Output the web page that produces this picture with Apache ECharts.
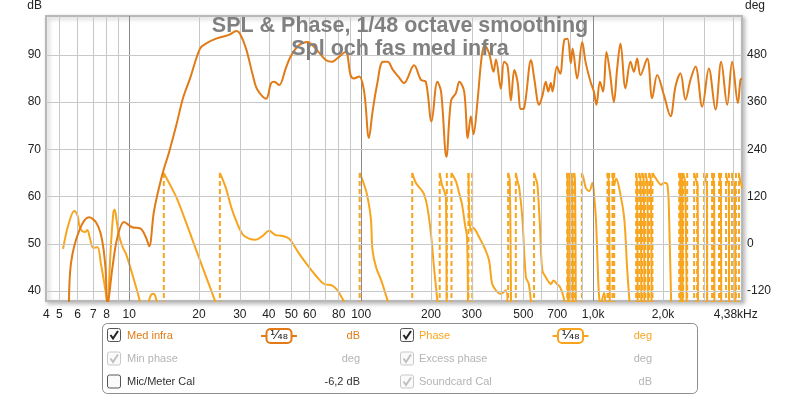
<!DOCTYPE html>
<html>
<head>
<meta charset="utf-8">
<script src="https://cdn.jsdelivr.net/npm/echarts@6/dist/echarts.min.js"></script>
<style>
  html, body { margin: 0; padding: 0; background: #fff; }
  #mains { width: 800px; height: 396px; }
</style>
</head>
<body>
<div id="mains"></div>
<script>
var myCharts = echarts.init(document.getElementById("mains"));

// SPL, [Hz, dB]
var splData = [
  [5.5, 36], [5.61, 45.8], [6.09, 52.8], [6.72, 55.6], [7.18, 54.6], [7.6, 51.4], [7.9, 45.1], [8.06, 37],
  [8.47, 45], [8.9, 51.4], [9.5, 54.6], [10.3, 53.5], [11.2, 53.2], [11.8, 51.4], [12.2, 49.5], [12.8, 57],
  [13.9, 64.7], [14.9, 69.6], [16, 75.3], [17.1, 81], [18.3, 85], [20.2, 91.3], [21.5, 92.4], [23.7, 93.4],
  [26.9, 94.2], [29, 95], [30, 94.5], [31.9, 91.3], [34.1, 85.7], [35.7, 82.6], [38.9, 80.7], [40.9, 84],
  [42.2, 84.3], [44.3, 83.6], [47.3, 87.1], [49.6, 89.6], [53.9, 92], [58.6, 92.7], [63.6, 91.3], [70.3, 88.9],
  [75, 88.5], [78.7, 89.2], [85.6, 90.6], [90, 85.7], [93, 85], [98, 85.4], [103, 82.2], [108, 72.4], [112, 78],
  [117, 83.6], [124, 88.5], [130, 88.5], [137, 86.8], [145, 85.3], [153, 84], [169, 87.8], [181, 84.7],
  [190, 84.3], [201, 75.9], [213, 84.3], [221, 82.2], [233, 68.4], [244, 80.3], [256, 81.9], [265, 84.3],
  [278, 82.2], [288, 72.4], [297, 77], [305, 73.2], [317, 80], [330, 89.2], [340, 92], [356, 90.3], [372, 86.4],
  [381, 89], [400, 82.8], [413, 88.5], [427, 87.8], [442, 80.3], [457, 86.8], [472, 84.3], [488, 78.5],
  [504, 78.7], [540, 88.9], [557, 85], [585, 79.4], [604, 81.3], [625, 84.3], [640, 82.2], [657, 84], [668, 82.2],
  [698, 87.5], [720, 86], [750, 93.1], [775, 93.4], [801, 88.2], [815, 91.3], [853, 85], [897, 92.7], [927, 88.5],
  [974, 84.3], [1007, 82.2], [1033, 79.4], [1069, 84.3], [1104, 82.2], [1141, 90.6], [1180, 86.4], [1228, 80],
  [1269, 87.1], [1311, 92.4], [1378, 82.9], [1448, 88.5], [1498, 86.4], [1547, 89.2], [1599, 85.7], [1709, 89.2],
  [1796, 80.8], [1888, 85.7], [2017, 81.5], [2154, 77], [2263, 83.3], [2378, 86.1], [2499, 80.5], [2627, 84.7],
  [2761, 87.5], [2950, 79], [3152, 87.1], [3367, 78.4], [3562, 88.5], [3780, 79.4], [3972, 88.5], [4205, 79.8],
  [4314, 84.7], [4380, 85]
];

// phase, [Hz, deg], one list per piece between wraps
var phaseSegs = [
  [[5.19, -13], [5.45, 45], [5.8, 83], [6.0, 70], [6.1, 45], [6.25, 33], [6.45, 30], [6.6, 35], [6.75, 18], [7.0, -10],
   [7.3, -9], [7.55, -50], [7.8, -98], [8.0, -140], [8.08, -165], [8.2, -90], [8.35, 0], [8.55, 80], [8.65, 87],
   [8.85, 55], [9.05, 20], [9.4, -10], [9.7, -26], [10.3, -76], [11.0, -135], [11.4, -175]],
  [[11.9, -175], [12.3, -135], [12.7, -127], [13.0, -135], [13.4, -175]],
  [[14.1, 180], [15, 150], [16, 117], [17.7, 50], [19.5, -18], [21.5, -85], [23.4, -144], [24.4, -180]],
  [[24.6, 180], [26.1, 142], [27.9, 83], [30.8, 24], [32.9, 13], [35, 10], [37.6, 20], [40.1, 33], [42.8, 22],
   [45.8, 20], [48.9, 13], [54, -25], [59.7, -60], [63.8, -81], [69.2, -102], [75.1, -106], [79, -118], [84.6, -148], [92, -180]],
  [[98.5, 180], [103, 150], [106, 125], [110, 66], [112, -18], [116, -60], [122, -93], [130, -144], [136, -180]],
  [[166, 180], [172, 155], [181, 138], [187, 125], [193, 92], [200, 24], [206, -60], [213, -144], [216, -180]],
  [[218, 180], [223, 150], [228, 134], [232, 117], [233.5, -180]],
  [[245, 180], [256, 159], [264, 130], [272, 100], [280, 50], [286, 16], [288.5, -180]],
  [[290, 180], [293, 60], [297, 33], [304, 41], [312, 33], [323, 16], [340, -10], [356, -43], [367, -102],
   [381, -118], [400, -127], [420, -118], [428, -180]],
  [[430, 180], [437, 160], [443, -180]],
  [[464, 180], [472, 159], [480, 142], [495, 66], [513, -85], [528, -102], [545, -180]],
  [[556, 180], [566, 165], [575, 150], [590, 41], [604, -68], [625, -85], [640, -95], [657, -102], [675, -93],
   [698, -102], [720, -110], [745, -135], [766, -180]],
  [[773, 180], [776, 150], [779, -180]],
  [[790, 180], [793, 150], [797, -180]],
  [[806, 180], [812, 165], [818, -180]],
  [[828, 180], [835, 160], [842, -180]],
  [[894, 180], [910, 165], [930, 142], [961, 134], [993, 155], [1010, 120], [1027, 66], [1045, -50], [1061, -135],
   [1080, -155], [1100, -135], [1115, -125], [1130, -150], [1140, -180]],
  [[1152, 180], [1168, 155], [1180, -180]],
  [[1211, 180], [1232, 150], [1256, 165], [1294, 142], [1360, 66], [1400, -60], [1429, -135], [1450, -180]],
  [[1532, 180], [1545, 150], [1556, -180]],
  [[1579, 180], [1600, 160], [1612, -180]],
  [[1627, 180], [1650, 165], [1662, -180]],
  [[1680, 180], [1710, 150], [1725, -180]],
  [[1743, 180], [1770, 165], [1785, -180]],
  [[1801, 180], [1869, 165], [1963, 150], [2023, 155], [2089, 150], [2125, 66], [2169, -150], [2190, -180]],
  [[2349, 180], [2370, 165], [2382, -180]],
  [[2396, 180], [2420, 160], [2432, -180]],
  [[2443, 180], [2490, 155], [2530, -180]],
  [[2724, 180], [2780, 160], [2820, 150], [2830, -180]],
  [[3007, 180], [3060, 160], [3090, 150], [3100, -180]],
  [[3254, 180], [3300, 160], [3320, 150], [3330, -180]],
  [[3488, 180], [3530, 160], [3550, 150], [3565, -180]],
  [[3737, 180], [3790, 160], [3840, 150], [3855, -180]],
  [[3964, 180], [4020, 160], [4080, 150], [4100, -180]],
  [[4249, 180], [4300, 160], [4360, 150], [4380, 140]]
];

// frequencies of the dashed phase wrap lines
var phaseWraps = [14.1, 24.6, 98.5, 166, 218, 234, 245, 290, 301, 430, 464, 556, 773, 790, 806, 828, 894,
  1152, 1172, 1211, 1232, 1532, 1579, 1627, 1680, 1743, 1801, 2349, 2396, 2443, 2542, 2724, 2806, 3007, 3098,
  3254, 3320, 3488, 3558, 3737, 3849, 3964, 4125, 4249];

var xTickVals = [4.4, 5, 6, 7, 8, 10, 20, 30, 40, 50, 60, 80, 100, 200, 300, 500, 700, 1000, 2000, 4370];
var xTickText = ["4", "5", "6", "7", "8", "10", "20", "30", "40", "50", "60", "80", "100", "200", "300", "500", "700", "1,0k", "2,0k", "4,38kHz"];
var xGridMinor = [5, 6, 7, 8, 9, 20, 30, 40, 50, 60, 70, 80, 90, 200, 300, 400, 500, 600, 700, 800, 900, 2000, 3000, 4000];
var xGridMajor = [10, 100, 1000];
var dbTicks = [40, 50, 60, 70, 80, 90];
var degTicks = [-120, 0, 120, 240, 360, 480];

var splColor = "#e07b17";
var phaseColor = "#f7a51e";
var font = "Liberation Sans";

// build line data
var phaseLine = [];
phaseSegs.forEach(function (seg) {
  seg.forEach(function (p) { phaseLine.push(p); });
  phaseLine.push([seg[seg.length - 1][0], "-"]);
});
var wrapLine = [];
phaseWraps.forEach(function (f) {
  wrapLine.push([f, 180], [f, -180], [f, "-"]);
});

var gridLines = [];
xGridMinor.forEach(function (f) { gridLines.push({ xAxis: f }); });
xGridMajor.forEach(function (f) { gridLines.push({ xAxis: f, lineStyle: { color: "#8a8a8a" } }); });
dbTicks.forEach(function (v) { gridLines.push({ yAxis: v }); });

// legend panel under the chart
function box(x, y, state) {
  var stroke = state == "dim" ? "#c8c8c8" : "#555";
  var els = [{ type: "rect", shape: { x: x, y: y, width: 13, height: 13, r: 2 }, style: { fill: "#fafafa", stroke: stroke, lineWidth: 1 } }];
  if (state != "off") {
    els.push({ type: "polyline", shape: { points: [[x + 3, y + 6.5], [x + 5.5, y + 10], [x + 10.5, y + 2.5]] },
      style: { stroke: state == "dim" ? "#c0c0c0" : "#222", lineWidth: 2, fill: null } });
  }
  return els;
}
function txt(x, y, s, color, align) {
  return { type: "text", x: x, y: y, style: { text: s, fill: color, font: '11px "' + font + '"', align: align || "left", verticalAlign: "middle" } };
}
function badge(cx, y, color) {
  return [
    { type: "line", shape: { x1: cx - 18, y1: y, x2: cx + 18, y2: y }, style: { stroke: color, lineWidth: 2 } },
    { type: "rect", shape: { x: cx - 12.5, y: y - 7, width: 25, height: 14, r: 4 }, style: { fill: "#fff", stroke: color, lineWidth: 2 } },
    { type: "text", x: cx, y: y, style: { text: "¹⁄₄₈", fill: "#222", font: '13px "DejaVu Sans"', align: "center", verticalAlign: "middle" } }
  ];
}
var legendEls = [{ type: "rect", shape: { x: 102.5, y: 323.5, width: 595, height: 70, r: 5 }, style: { fill: "#fff", stroke: "#8c8c8c", lineWidth: 1 } }];
legendEls = legendEls.concat(
  box(107.5, 328.5, "on"), box(107.5, 352, "dim"), box(107.5, 375, "off"),
  box(400.5, 328.5, "on"), box(400.5, 352, "dim"), box(400.5, 375, "dim"),
  [txt(127, 336, "Med infra", splColor), txt(127, 359, "Min phase", "#b4b4b4"), txt(127, 382, "Mic/Meter Cal", "#333"),
   txt(360, 336, "dB", splColor, "right"), txt(360, 359, "deg", "#b4b4b4", "right"), txt(360, 382, "-6,2 dB", "#333", "right"),
   txt(419, 336, "Phase", phaseColor), txt(419, 359, "Excess phase", "#b4b4b4"), txt(419, 382, "Soundcard Cal", "#b4b4b4"),
   txt(652, 336, "deg", phaseColor, "right"), txt(652, 359, "deg", "#b4b4b4", "right"), txt(652, 382, "dB", "#b4b4b4", "right")],
  badge(279, 336, splColor), badge(570.5, 336, phaseColor)
);

option = {
  backgroundColor: "#fff",
  animation: false,
  title: {
    text: "SPL & Phase, 1/48 octave smoothing\nSpl och fas med infra",
    left: "center",
    top: 15,
    padding: 0,
    textStyle: {
      color: "#808080",
      fontSize: 21.5,
      fontWeight: "bold",
      fontFamily: font,
      lineHeight: 23,
    },
  },
  grid: {
    left: 46,
    right: 58,
    top: 14,
    bottom: 95,
    show: true,
    backgroundColor: "#fff",
    borderColor: "#b8b8b8",
    borderWidth: 2,
    shadowColor: "rgba(0,0,0,0.25)",
    shadowBlur: 4,
    shadowOffsetX: 2,
    shadowOffsetY: 2,
  },
  xAxis: {
    type: "log",
    logBase: 10,
    min: 4.38,
    max: 4380,
    axisLine: { show: false },
    axisTick: { show: false },
    splitLine: { show: false },
    axisLabel: {
      customValues: xTickVals,
      interval: 0,
      margin: 8,
      color: "#222",
      fontSize: 12,
      fontFamily: font,
      formatter: function (v) {
        var i = xTickVals.findIndex(function (t) { return Math.abs(t - v) / t < 0.002; });
        if (i < 0) return "";
        if (i == xTickVals.length - 1) return "{r|" + xTickText[i] + "}";
        return xTickText[i];
      },
      rich: {
        r: { padding: [0, 12, 0, 0], color: "#222", fontSize: 12, fontFamily: font },
      },
    },
  },
  yAxis: [
    {
      type: "value",
      position: "left",
      min: 37.9,
      max: 98.2,
      name: "dB",
      nameLocation: "end",
      nameGap: 4,
      nameTextStyle: { color: "#222", fontSize: 12, fontFamily: font, align: "right", verticalAlign: "bottom", padding: [0, 4, 0, 0] },
      axisLine: { show: false },
      axisTick: { show: false },
      splitLine: { show: false },
      axisLabel: { customValues: dbTicks, margin: 5, color: "#222", fontSize: 12, fontFamily: font },
    },
    {
      type: "value",
      position: "right",
      min: -145.2,
      max: 578.4,
      name: "deg",
      nameLocation: "end",
      nameGap: 4,
      nameTextStyle: { color: "#222", fontSize: 12, fontFamily: font, align: "left", verticalAlign: "bottom", padding: [0, 0, 0, 3] },
      axisLine: { show: false },
      axisTick: { show: false },
      splitLine: { show: false },
      axisLabel: { customValues: degTicks, margin: 5, color: "#222", fontSize: 12, fontFamily: font },
    },
  ],
  graphic: { elements: legendEls },
  series: [
    {
      name: "grid",
      type: "line",
      data: [[10, 50]],
      symbol: "none",
      lineStyle: { opacity: 0 },
      silent: true,
      z: 1,
      markLine: {
        silent: true,
        symbol: ["none", "none"],
        label: { show: false },
        lineStyle: { color: "#c8c8c8", width: 1, type: "solid" },
        data: gridLines,
      },
    },
    {
      name: "Phase wrap",
      type: "line",
      yAxisIndex: 1,
      data: wrapLine,
      showSymbol: false,
      symbol: "none",
      z: 3,
      lineStyle: { color: phaseColor, width: 2, type: [5, 3] },
    },
    {
      name: "Phase",
      type: "line",
      yAxisIndex: 1,
      data: phaseLine,
      showSymbol: false,
      symbol: "none",
      smooth: 0.35,
      z: 4,
      lineStyle: { color: phaseColor, width: 2 },
    },
    {
      name: "Med infra",
      type: "line",
      data: splData,
      showSymbol: false,
      symbol: "none",
      smooth: 0.35,
      z: 5,
      lineStyle: { color: splColor, width: 2 },
    },
  ],
};
myCharts.setOption(option);
</script>
</body>
</html>
